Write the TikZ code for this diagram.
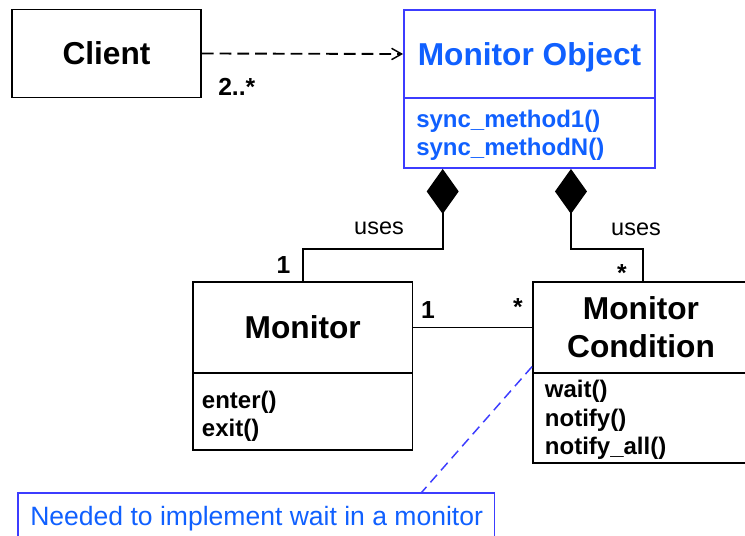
\documentclass[tikz,border=0pt]{standalone}
\usepackage{fontspec}
\setmainfont{Liberation Sans}
\usetikzlibrary{arrows.meta}
\definecolor{moline}{RGB}{60,60,255}
\definecolor{motext}{RGB}{16,96,255}
\begin{document}
\begin{tikzpicture}[
  x=0.75pt, y=-0.75pt,
  classbox/.style={draw, line width=1.4pt, inner sep=0pt, align=center,
    text depth=0pt, font=\bfseries\fontsize{23.75}{28.5}\selectfont},
  compart/.style={draw, line width=1.4pt, inner sep=0pt},
  method/.style={anchor=base west, inner sep=0pt,
    font=\bfseries\fontsize{18}{21}\selectfont},
  mult/.style={anchor=base, inner sep=0pt,
    font=\bfseries\fontsize{18.5}{22}\selectfont},
  role/.style={anchor=base, inner sep=0pt,
    font=\fontsize{17.6}{21}\selectfont},
  link/.style={line width=1.4pt},
  dep/.style={link, dash pattern=on 8.8pt off 4.5pt,
    -{Straight Barb[length=7.5pt, width=8.5pt, line width=1.1pt]}},
  whole/.style={link, {Diamond[length=33.75pt, width=24pt]}-},
  notelink/.style={draw=moline, line width=1.1pt, dash pattern=on 7.5pt off 4.5pt},
]
\useasboundingbox (0,0) rectangle (745,535);
\clip (0,0) rectangle (745,535);

% Client
\node[classbox, minimum width=141.75pt, minimum height=66pt] (client) at (106.5,53.5) {Client};

% Monitor Object
\node[classbox, draw=moline, text=motext, minimum width=188.25pt, minimum height=66pt] (moT) at (529.5,54) {Monitor Object};
\node[compart, draw=moline, minimum width=188.25pt, minimum height=52.5pt] (moM) at (529.5,133) {};
\node[method, text=motext] (mo1) at (416,127.5) {sync\_method1()};
\node[method, text=motext] (mo2) at (416,155) {sync\_methodN()};

% Monitor
\node[classbox, minimum width=164.6pt, minimum height=68.25pt] (monT) at (302.75,327.5) {Monitor};
\node[compart, minimum width=164.6pt, minimum height=57.75pt] (monM) at (302.75,411.5) {};
\node[method] (mon1) at (201.7,408.3) {enter()};
\node[method] (mon2) at (201.7,436.5) {exit()};

% Monitor Condition
\node[classbox, minimum width=162pt, minimum height=68.25pt] (mcT) at (641,327.5) {Monitor\\Condition};
\node[compart, minimum width=162pt, minimum height=67.5pt] (mcM) at (641,418) {};
\node[method] (mc1) at (544.7,397) {wait()};
\node[method] (mc2) at (544.7,426) {notify()};
\node[method] (mc3) at (544.7,454.5) {notify\_all()};

% Note
\node[draw=moline, line width=1.3pt, inner sep=0pt, minimum width=357.15pt, minimum height=50pt] (note) at (256.4,526.6) {};
\node[anchor=base west, inner sep=0pt, text=motext, font=\fontsize{19.9}{24}\selectfont] (notetext) at (30,525) {Needed to implement wait in a monitor};

% Connectors
\draw[dep] (client.east) -- (moT.west);
\draw[whole] ([xshift=-65.1pt]moM.south) -- ++(0,80) -| (monT.north);
\draw[whole] ([xshift=31.1pt]moM.south) -- ++(0,80) -| ([xshift=1.5pt]mcT.north);
\draw[link] (monT.east) -- (mcT.west);
\draw[notelink] ([yshift=5.5pt]mcT.south west) -- ([xshift=123.9pt]note.north);

% Labels
\node[mult, anchor=base west] (clientmult) at (218,95) {2..*};
\node[role] (usesl) at (379,234.5) {uses};
\node[role] (usesr) at (636,235) {uses};
\node[mult] (monmult) at (283.5,273.3) {1};
\node[mult] (mcmult) at (622,281) {*};
\node[mult] (assoc1) at (428,318.3) {1};
\node[mult] (assocn) at (518,315.4) {*};
\end{tikzpicture}
\end{document}
